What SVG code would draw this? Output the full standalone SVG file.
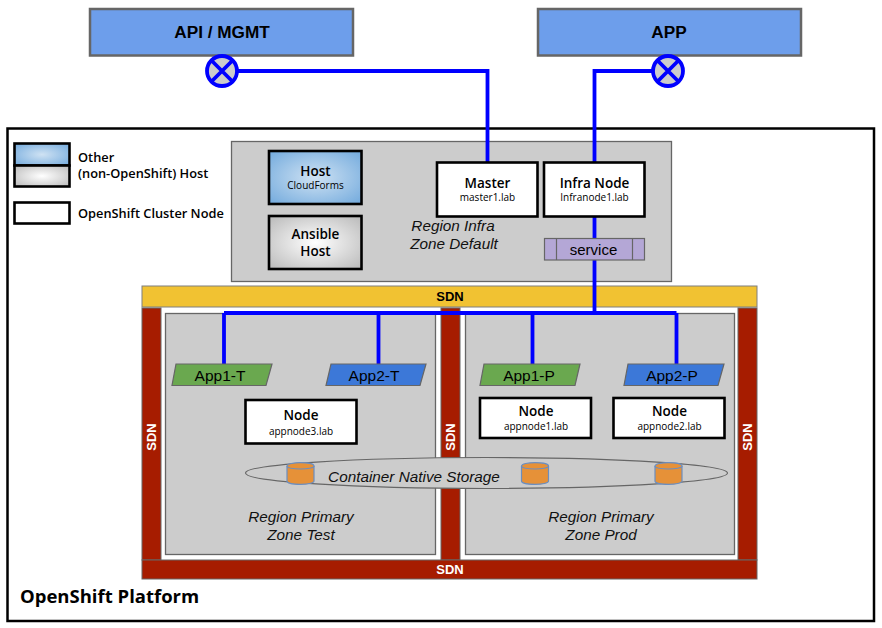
<svg xmlns="http://www.w3.org/2000/svg" width="882" height="628" viewBox="0 0 882 628">
<style>
text{font-family:"Liberation Sans",Arial,sans-serif;text-anchor:middle;fill:#000}
.r{font-family:"Open Sans","Liberation Sans",sans-serif}
.b{font-weight:700}
.t{font-size:13.5px;font-weight:600}
.s{font-size:10px;font-weight:500}
.i{font-style:italic;font-size:15.300px;fill:#111}
.zone{fill:#cccccc;stroke:#666;stroke-width:1.3}
.sdn{fill:#a61c00;stroke:#666;stroke-width:1}
.sdnt{font-size:13px;font-weight:700;fill:#fff}
.top{fill:#6d9eeb;stroke:#666;stroke-width:2.5}
.node{fill:#fff;stroke:#000;stroke-width:2.6}
.gh{stroke:#000;stroke-width:2.6}
.link{fill:none;stroke:#0000ff;stroke-width:3.8}
.cyl{fill:#e69138;stroke:#6c8ebf;stroke-width:1.2}
.app{font-size:15.500px}
.leg{text-anchor:start;font-size:12.800px;font-weight:600}
</style>
<defs>
<radialGradient id="blue" r="0.72"><stop offset="0" stop-color="#cfe2f3"/><stop offset="1" stop-color="#6fa8dc"/></radialGradient>
<radialGradient id="grey" r="0.72"><stop offset="0" stop-color="#fff"/><stop offset="1" stop-color="#b7b7b7"/></radialGradient>
<g id="db"><path class="cyl" d="M0 3.500V18.500C0 23 27 23 27 18.500V3.500C27 -1 0 -1 0 3.500Z"/><path class="cyl" style="fill:none" d="M0 3.500C0 7.500 27 7.500 27 3.500"/></g>
</defs>

<g id="platform"><rect x="7.500" y="128.500" width="866.500" height="492.500" fill="#fff" stroke="#000" stroke-width="2.500"/>
<text class="r" x="20" y="603" style="text-anchor:start;font-size:18.500px;font-weight:700">OpenShift Platform</text></g>

<g id="legend">
<rect class="gh" x="14.500" y="143.500" width="55" height="22" fill="url(#blue)"/>
<rect class="gh" x="14.500" y="165.500" width="55" height="21" fill="url(#grey)"/>
<rect class="gh" x="14.500" y="202.500" width="55" height="21" fill="#fff"/>
<text class="r leg" x="78" y="162">Other</text>
<text class="r leg" x="78" y="178">(non-OpenShift) Host</text>
<text class="r leg" x="78" y="218">OpenShift Cluster Node</text>
</g>

<g id="region-infra"><rect class="zone" x="231.500" y="141.500" width="440" height="140"/>
<text class="i" x="453" y="231">Region Infra</text><text class="i" x="454" y="249">Zone Default</text></g>

<g id="sdn-top"><rect x="142" y="286" width="615" height="21" fill="#f1c232" stroke="#7f7f7f"/><text class="sdnt" x="450" y="301" style="fill:#000">SDN</text></g>
<g id="sdn-left"><rect class="sdn" x="142" y="308" width="19" height="252"/><text class="sdnt" transform="translate(155.500 437) rotate(-90)">SDN</text></g>
<g id="sdn-mid"><rect class="sdn" x="441" y="308" width="19" height="252"/><text class="sdnt" transform="translate(454.500 437) rotate(-90)">SDN</text></g>
<g id="sdn-right"><rect class="sdn" x="738" y="308" width="19" height="252"/><text class="sdnt" transform="translate(751.500 437) rotate(-90)">SDN</text></g>
<g id="sdn-bottom"><rect class="sdn" x="142" y="560" width="615" height="19"/><text class="sdnt" x="450" y="574">SDN</text></g>

<g id="zone-test"><rect class="zone" x="165.500" y="313.500" width="270" height="241"/>
<text class="i" x="301" y="522">Region Primary</text><text class="i" x="301" y="540">Zone Test</text></g>
<g id="zone-prod"><rect class="zone" x="465.500" y="313.500" width="269" height="241"/>
<text class="i" x="601" y="522">Region Primary</text><text class="i" x="601" y="540">Zone Prod</text></g>

<g id="connectors">
<path class="link" d="M222 71H487.500V162"/>
<path class="link" d="M668 71H594.500V162"/>
<path class="link" d="M594.500 216V313"/>
<path class="link" d="M224 313H676.500"/>
<path class="link" d="M224 313V364M378.500 313V364M532.500 313V364M676.500 313V364"/>
</g>

<g id="api"><rect class="top" x="90" y="9" width="263" height="46.500"/><text class="b" x="222" y="37.500" style="font-size:17.200px">API / MGMT</text></g>
<g id="app"><rect class="top" x="538" y="9" width="263" height="46.500"/><text class="b" x="669" y="37.500" style="font-size:17.200px">APP</text></g>
<g id="port-api"><circle cx="222" cy="71" r="15" fill="#cccccc" stroke="#0000ff" stroke-width="3.800"/><path class="link" d="M211.500 60.500L232.500 81.500M232.500 60.500L211.500 81.500"/></g>
<g id="port-app"><circle cx="668" cy="71" r="15" fill="#cccccc" stroke="#0000ff" stroke-width="3.800"/><path class="link" d="M657.500 60.500L678.500 81.500M678.500 60.500L657.500 81.500"/></g>

<g id="host-cf"><rect class="gh" x="269" y="151" width="92.500" height="53" fill="url(#blue)"/><text class="r t" x="315.500" y="176">Host</text><text class="r s" x="315.500" y="189">CloudForms</text></g>
<g id="host-ansible"><rect class="gh" x="269" y="216" width="92.500" height="53" fill="url(#grey)"/><text class="r t" x="315.500" y="239">Ansible</text><text class="r t" x="315.500" y="256">Host</text></g>
<g id="master"><rect class="node" x="437" y="162.500" width="100.500" height="54"/><text class="r t" x="487.500" y="188">Master</text><text class="r s" x="487.500" y="201">master1.lab</text></g>
<g id="infra"><rect class="node" x="544" y="162.500" width="100.500" height="54"/><text class="r t" x="594.500" y="188">Infra Node</text><text class="r s" x="594.500" y="201">Infranode1.lab</text></g>
<g id="service"><rect x="544.500" y="238.500" width="100" height="21.500" fill="#b4a7d6" stroke="#666" stroke-width="1.200"/><path d="M556.500 238.500V260M632.500 238.500V260" stroke="#666" stroke-width="1.200"/><text x="593.500" y="255" style="font-size:15px">service</text></g>

<g id="app1-t"><path d="M176 364H272L266 385.500H172Z" fill="#6aa84f" stroke="#666" stroke-width="1.200"/><text class="app" x="220" y="381">App1-T</text></g>
<g id="app2-t"><path d="M331 364H426L420 385.500H326Z" fill="#3c78d8" stroke="#666" stroke-width="1.200"/><text class="app" x="374" y="381">App2-T</text></g>
<g id="app1-p"><path d="M484 364H580L575 385.500H480Z" fill="#6aa84f" stroke="#666" stroke-width="1.200"/><text class="app" x="529" y="381">App1-P</text></g>
<g id="app2-p"><path d="M628 364H724L718 385.500H624Z" fill="#3c78d8" stroke="#666" stroke-width="1.200"/><text class="app" x="672" y="381">App2-P</text></g>

<g id="node3"><rect class="node" x="245.500" y="400" width="111" height="43.500"/><text class="r t" x="301" y="420">Node</text><text class="r s" x="301" y="435">appnode3.lab</text></g>
<g id="node1"><rect class="node" x="480" y="398" width="111" height="40"/><text class="r t" x="536" y="416">Node</text><text class="r s" x="536" y="430">appnode1.lab</text></g>
<g id="node2"><rect class="node" x="613.500" y="398" width="111" height="40"/><text class="r t" x="669.500" y="416">Node</text><text class="r s" x="669.500" y="430">appnode2.lab</text></g>

<g id="cns"><ellipse cx="486.500" cy="473" rx="241" ry="15.500" fill="#cccccc" stroke="#666" stroke-width="1.200"/>
<text class="i" x="414" y="482">Container Native Storage</text>
<use href="#db" x="287" y="462.500"/><use href="#db" x="521.500" y="462.500"/><use href="#db" x="655" y="462.500"/></g>
</svg>
